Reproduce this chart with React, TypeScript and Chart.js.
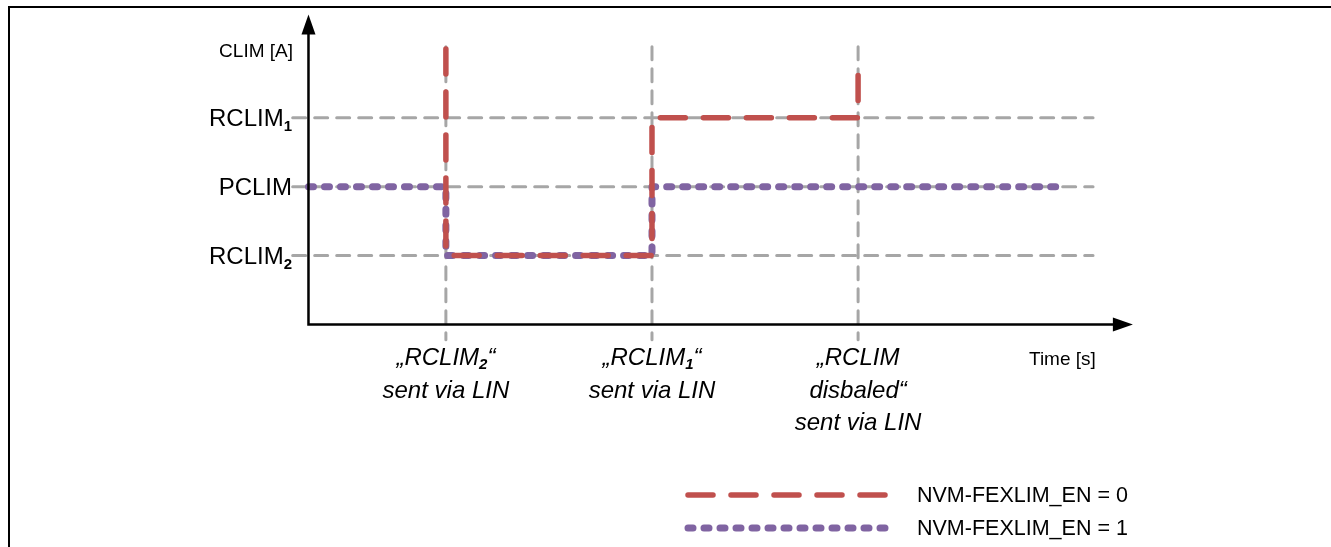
import React, { useEffect, useRef } from "react";
import { Chart, registerables } from "chart.js";

Chart.register(...registerables);

// ---- data ----
const eventTimes = [1, 2.5, 4];
const levelValues = [1, 2, 3];
const levelNames = ["RCLIM", "PCLIM", "RCLIM"];
const levelSubs = ["2", "", "1"];
const fexlimEn0 = [
  { x: 1, y: 4.0 },
  { x: 1, y: 1 },
  { x: 2.5, y: 1 },
  { x: 2.5, y: 3 },
  { x: 4, y: 3 },
  { x: 4, y: 3.81 },
];
const fexlimEn1 = [
  { x: 0, y: 2 },
  { x: 1, y: 2 },
  { x: 1, y: 1 },
  { x: 2.5, y: 1 },
  { x: 2.5, y: 2 },
  { x: 5.5, y: 2 },
];
const seriesNames = ["NVM-FEXLIM_EN = 0", "NVM-FEXLIM_EN = 1"];
const eventLabelLines = [
  [{ t: "„RCLIM", s: "2", e: "“" }, { t: "sent via LIN" }],
  [{ t: "„RCLIM", s: "1", e: "“" }, { t: "sent via LIN" }],
  [{ t: "„RCLIM" }, { t: "disbaled“" }, { t: "sent via LIN" }],
];
const gridXRange = [-0.115, 5.71];
const gridYRange = [-0.22, 4.03];
const xRange = [-0.2, 6.0];
const yRange = [-0.4, 4.5];
const yAxisTitle = "CLIM [A]";
const xAxisTitle = "Time [s]";

const FONT = '"Liberation Sans", Arial, sans-serif';
const RED = "#C0504D";
const PURPLE = "#8064A2";
const GRAY = "#A6A6A6";

type Part = { text: string; font: string; dy: number };

function drawParts(ctx: CanvasRenderingContext2D, x: number, y: number, parts: Part[], align: "left" | "right" | "center") {
  let total = 0;
  const widths = parts.map((p) => {
    ctx.font = p.font;
    const w = ctx.measureText(p.text).width;
    total += w;
    return w;
  });
  let cx = align === "left" ? x : align === "right" ? x - total : x - total / 2;
  ctx.textAlign = "left";
  ctx.textBaseline = "alphabetic";
  parts.forEach((p, i) => {
    ctx.font = p.font;
    ctx.fillText(p.text, cx, y + p.dy);
    cx += widths[i];
  });
}

const decorPlugin = {
  id: "decor",
  afterDraw(chart: any) {
    const ctx: CanvasRenderingContext2D = chart.ctx;
    const xs = chart.scales.x;
    const ys = chart.scales.y;
    const x0 = xs.getPixelForValue(0);
    const y0 = ys.getPixelForValue(0);
    ctx.save();
    ctx.fillStyle = "#000";
    ctx.strokeStyle = "#000";

    // frame
    ctx.lineWidth = 2;
    ctx.beginPath();
    ctx.moveTo(9, 547);
    ctx.lineTo(9, 7);
    ctx.lineTo(1331, 7);
    ctx.stroke();

    // axes
    const yTip = ys.getPixelForValue(yRange[1]);
    const xTip = xs.getPixelForValue(xRange[1]);
    ctx.lineWidth = 2.5;
    ctx.beginPath();
    ctx.moveTo(x0, y0 + 1.2);
    ctx.lineTo(x0, yTip + 18);
    ctx.moveTo(x0 - 1.2, y0);
    ctx.lineTo(xTip - 18, y0);
    ctx.stroke();
    ctx.beginPath();
    ctx.moveTo(x0, yTip);
    ctx.lineTo(x0 - 7, yTip + 20);
    ctx.lineTo(x0 + 7, yTip + 20);
    ctx.closePath();
    ctx.fill();
    ctx.beginPath();
    ctx.moveTo(xTip, y0);
    ctx.lineTo(xTip - 20, y0 - 7);
    ctx.lineTo(xTip - 20, y0 + 7);
    ctx.closePath();
    ctx.fill();

    // axis titles
    ctx.font = `19px ${FONT}`;
    ctx.textAlign = "right";
    ctx.textBaseline = "alphabetic";
    ctx.fillText(yAxisTitle, 293, 57);
    ctx.textAlign = "left";
    ctx.fillText(xAxisTitle, 1029, 365);

    // level labels
    levelValues.forEach((v, i) => {
      const py = ys.getPixelForValue(v);
      const parts: Part[] = [{ text: levelNames[i], font: `24px ${FONT}`, dy: 0 }];
      if (levelSubs[i]) parts.push({ text: levelSubs[i], font: `bold 15px ${FONT}`, dy: 5 });
      drawParts(ctx, 292, py + 8.6, parts, "right");
    });

    // event labels
    eventTimes.forEach((t, i) => {
      const px = xs.getPixelForValue(t);
      eventLabelLines[i].forEach((ln: any, j: number) => {
        const parts: Part[] = [{ text: ln.t, font: `italic 24px ${FONT}`, dy: 0 }];
        if (ln.s) parts.push({ text: ln.s, font: `italic bold 15px ${FONT}`, dy: 4 });
        if (ln.e) parts.push({ text: ln.e, font: `italic 24px ${FONT}`, dy: 0 });
        drawParts(ctx, px, 365 + j * 32.5, parts, "center");
      });
    });

    // legend
    const legendY = [495, 528];
    [0, 1].forEach((di, k) => {
      const ds = chart.data.datasets[di];
      ctx.save();
      ctx.strokeStyle = ds.borderColor;
      ctx.lineWidth = ds.borderWidth;
      ctx.lineCap = "round";
      ctx.setLineDash(ds.borderDash);
      ctx.beginPath();
      ctx.moveTo(688, legendY[k]);
      ctx.lineTo(890, legendY[k]);
      ctx.stroke();
      ctx.restore();
      ctx.font = `21.5px ${FONT}`;
      ctx.textAlign = "left";
      ctx.textBaseline = "middle";
      ctx.fillStyle = "#000";
      ctx.fillText(seriesNames[k], 917, legendY[k] + 1);
    });
    ctx.restore();
  },
};

export default function App() {
  const ref = useRef<HTMLCanvasElement>(null);
  useEffect(() => {
    document.body.style.margin = "0";
    const gridSets: any[] = [];
    levelValues.forEach((v) => {
      gridSets.push({
        data: [
          { x: gridXRange[0], y: v },
          { x: gridXRange[1], y: v },
        ],
        borderColor: GRAY,
        borderWidth: 3,
        borderDash: [13, 9],
        borderCapStyle: "round",
        order: 3,
      });
    });
    eventTimes.forEach((t) => {
      gridSets.push({
        data: [
          { x: t, y: gridYRange[1] },
          { x: t, y: gridYRange[0] },
        ],
        borderColor: GRAY,
        borderWidth: 3,
        borderDash: [13, 9],
        borderCapStyle: "round",
        order: 3,
      });
    });
    const chart = new Chart(ref.current!, {
      type: "line",
      data: {
        datasets: [
          {
            label: seriesNames[0],
            data: fexlimEn0,
            borderColor: RED,
            borderWidth: 5.5,
            borderDash: [25, 18],
            borderCapStyle: "round",
            borderJoinStyle: "round",
            order: 1,
          },
          {
            label: seriesNames[1],
            data: fexlimEn1,
            borderColor: PURPLE,
            borderWidth: 7,
            borderDash: [5, 11],
            borderCapStyle: "round",
            borderJoinStyle: "round",
            order: 2,
          },
          ...gridSets,
        ] as any,
      },
      options: {
        responsive: false,
        animation: false,
        devicePixelRatio: 1,
        layout: { padding: { left: 281, right: 198.1, top: 14.45, bottom: 194.94 } },
        elements: { point: { radius: 0, hoverRadius: 0 }, line: { tension: 0 } },
        scales: {
          x: { type: "linear", min: xRange[0], max: xRange[1], display: false },
          y: { type: "linear", min: yRange[0], max: yRange[1], display: false },
        },
        plugins: { legend: { display: false }, tooltip: { enabled: false } },
        events: [],
      } as any,
      plugins: [decorPlugin],
    });
    return () => chart.destroy();
  }, []);
  return <canvas ref={ref} width={1331} height={547} style={{ display: "block" }} />;
}
